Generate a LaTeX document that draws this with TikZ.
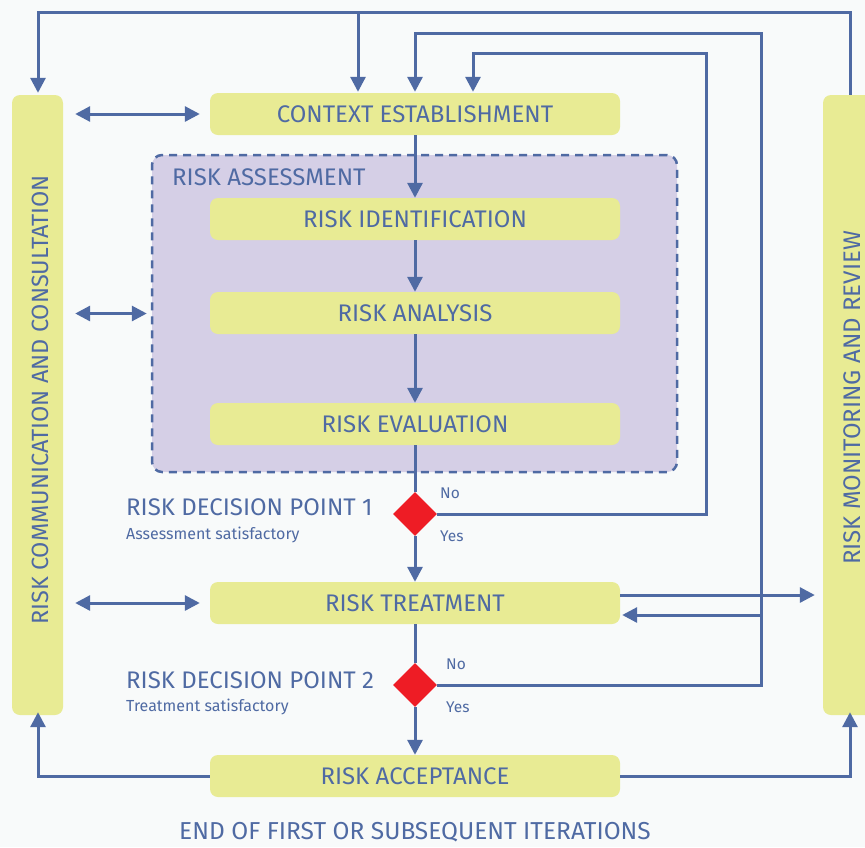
\documentclass[tikz,border=0pt]{standalone}
\usepackage{fontspec}
\setmainfont{Fira Sans}
\usetikzlibrary{arrows.meta,shapes.geometric}
\definecolor{bg}{HTML}{F8FAFA}
\definecolor{ylw}{HTML}{E8EB94}
\definecolor{prp}{HTML}{D5CFE6}
\definecolor{blu}{HTML}{4F6AA3}
\definecolor{rd}{HTML}{EE1C25}
\tikzset{
  box/.style={fill=ylw, rounded corners=8pt, minimum width=410pt, minimum height=42pt, inner sep=0pt, text=blu, font=\fontsize{24}{28}\selectfont},
  bar/.style={fill=ylw, rounded corners=8pt, minimum width=51pt, minimum height=620pt, inner sep=0pt},
  dashbox/.style={fill=prp, draw=blu, line width=2.5pt, dash pattern=on 8pt off 6pt, rounded corners=10pt, minimum width=525pt, minimum height=317pt, inner sep=0pt},
  dec/.style={diamond, fill=rd, minimum width=44pt, minimum height=44pt, inner sep=0pt},
  conn/.style={draw=blu, line width=3pt},
  arr/.style={conn, -{Triangle[length=15pt,width=15pt]}},
  darr/.style={conn, {Triangle[length=15pt,width=15pt]}-{Triangle[length=15pt,width=15pt]}},
  lbl/.style={text=blu, inner sep=0pt},
}
\begin{document}
\begin{tikzpicture}[x=1pt,y=-1pt]
\fill[bg] (0,0) rectangle (865,847);
\useasboundingbox (0,0) rectangle (865,847);
\clip (0,0) rectangle (865,847);
% bars
\node[bar] (lb) at (37.5,405) {};
\node[bar, minimum width=52pt] (rb) at (849,405) {};
\node[lbl, rotate=90, font=\fontsize{23.5}{26}\selectfont] (lbt) at (40,400) {RISK COMMUNICATION AND CONSULTATION};
\node[lbl, rotate=90, font=\fontsize{24}{26}\selectfont] (rbt) at (852,398) {RISK MONITORING AND REVIEW};
% assessment area
\node[dashbox] (ra) at (414.5,313.5) {};
\node[lbl, anchor=west, font=\fontsize{24}{27}\selectfont] (rat) at (172,177) {RISK ASSESSMENT};
% boxes
\node[box] (ctx) at (415,114) {CONTEXT ESTABLISHMENT};
\node[box] (id) at (415,219) {RISK IDENTIFICATION};
\node[box] (an) at (415,313) {RISK ANALYSIS};
\node[box] (ev) at (415,424) {RISK EVALUATION};
\node[box] (tr) at (415,603) {RISK TREATMENT};
\node[box] (acc) at (415,776) {RISK ACCEPTANCE};
% decisions
\node[dec] (d1) at (415,514) {};
\node[dec] (d2) at (415,685) {};
\node[lbl, anchor=west, font=\fontsize{15.5}{18}\selectfont] (no1) at (440,493) {No};
\node[lbl, anchor=west, font=\fontsize{15.5}{18}\selectfont] (yes1) at (440,536) {Yes};
\node[lbl, anchor=west, font=\fontsize{15.5}{18}\selectfont] (no2) at (446,664) {No};
\node[lbl, anchor=west, font=\fontsize{15.5}{18}\selectfont] (yes2) at (446,707) {Yes};
\node[lbl, anchor=west, font=\fontsize{24}{26}\selectfont] (dp1) at (126,507) {RISK DECISION POINT 1};
\node[lbl, anchor=west, font=\fontsize{16}{18}\selectfont] (dp1s) at (126,535) {Assessment satisfactory};
\node[lbl, anchor=west, font=\fontsize{24}{26}\selectfont] (dp2) at (126,680) {RISK DECISION POINT 2};
\node[lbl, anchor=west, font=\fontsize{16}{18}\selectfont] (dp2s) at (126,707) {Treatment satisfactory};
\node[lbl, font=\fontsize{24.5}{28}\selectfont] (end) at (415,832) {END OF FIRST OR SUBSEQUENT ITERATIONS};
% coordinates
\coordinate (t1) at (850,12);
\coordinate (t2) at (38,12);
\coordinate (t3) at (358,12);
\coordinate (r2) at (761,33);
\coordinate (r2a) at (415,33);
\coordinate (r1) at (706,53);
\coordinate (r1a) at (473,53);
\coordinate (j1) at (761,615);
\coordinate (j2) at (620,595);
% top loop
\draw[arr, shorten >=2pt] (rb.north -| t1) -- (t1) -- (t2) -- (lb.north -| t2);
\draw[arr, shorten >=1pt] (t3) -- (t3 |- ctx.north);
\draw[arr, shorten >=1pt] (d2.east) -| (r2) -- (r2a) -- (ctx.north);
\draw[arr, shorten >=1pt] (d1.east) -| (r1) -- (r1a) -- (r1a |- ctx.north);
\draw[arr, shorten >=2pt] (j1) -- (j1 -| tr.east);
\draw[arr, shorten >=8pt] (j2) -- (j2 -| rb.west);
% acceptance
\draw[arr, shorten >=-3pt] (acc.west) -| (lb.south -| t2);
\draw[arr, shorten >=-3pt] (acc.east) -| (rb.south -| t1);
% double arrows
\draw[darr, shorten <=12pt, shorten >=10pt] (lb.east |- ctx) -- (ctx.west);
\draw[darr, shorten <=12pt, shorten >=4pt] (lb.east |- ra) -- (ra.west);
\draw[darr, shorten <=12pt, shorten >=10pt] (lb.east |- tr) -- (tr.west);
% main flow
\draw[arr] (ctx.south) -- (id.north);
\draw[arr] (id.south) -- (an.north);
\draw[arr] (an.south) -- (ev.north);
\draw[conn] (ev.south) -- (d1.north);
\draw[arr] (d1.south) -- (tr.north);
\draw[conn] (tr.south) -- (d2.north);
\draw[arr] (d2.south) -- (acc.north);
\end{tikzpicture}
\end{document}
